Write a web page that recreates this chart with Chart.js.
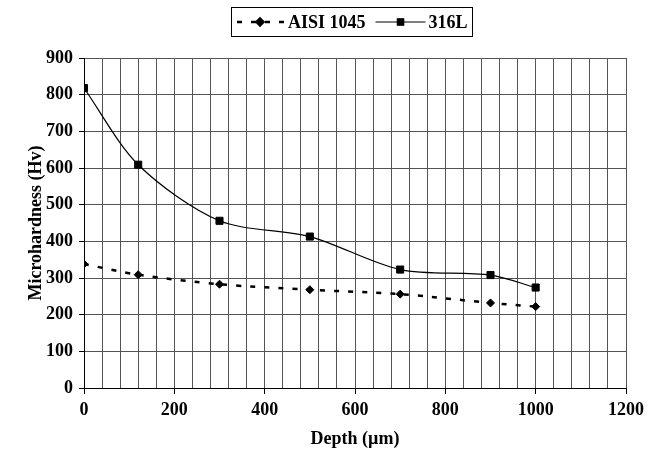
<!DOCTYPE html>
<html>
<head>
<meta charset="utf-8">
<script src="https://cdn.jsdelivr.net/npm/chart.js@4.4.1/dist/chart.umd.min.js"></script>
<style>
  html, body { margin: 0; padding: 0; background: #fff; }
</style>
</head>
<body>
<canvas id="chart" width="659" height="452"></canvas>
<script>
// values
const depth = [0, 120, 300, 500, 700, 900, 1000];
const aisi1045 = [338, 309, 283, 268, 256, 232, 222];
const steel316L = [818, 609, 456, 413, 323, 308, 274];
const seriesNames = ['AISI 1045', '316L'];

const FONT = '"Liberation Serif", "Times New Roman", serif';

function toPoints(ys) {
    return depth.map((x, i) => ({ x: x, y: ys[i] }));
}

// legend drawn in a framed box, like the original
const boxLegend = {
    id: 'boxLegend',
    afterDraw(chart) {
        const ctx = chart.ctx;
        ctx.save();
        ctx.strokeStyle = '#000';
        ctx.lineWidth = 1;
        ctx.strokeRect(231.5, 7.5, 241, 29);

        ctx.font = 'bold 18px ' + FONT;
        ctx.textBaseline = 'middle';
        ctx.fillStyle = '#000';
        const y = 22;
        let x = 235;
        chart.data.datasets.forEach((ds) => {
            const w = 50;
            ctx.beginPath();
            ctx.setLineDash(ds.borderDash || []);
            ctx.lineDashOffset = ds.borderDash ? -2 : 0;
            ctx.lineWidth = ds.borderWidth;
            ctx.strokeStyle = ds.borderColor;
            ctx.moveTo(x, y);
            ctx.lineTo(x + w, y);
            ctx.stroke();
            ctx.setLineDash([]);
            Chart.helpers.drawPoint(ctx, {
                pointStyle: ds.pointStyle,
                radius: ds.pointStyle === 'rect' ? 4.5 : 3.5,
                borderWidth: 1
            }, x + w / 2, y);
            ctx.fillStyle = '#000';
            ctx.fill();
            x += w + 3;
            ctx.fillText(ds.label, x, y + 1);
            x += ctx.measureText(ds.label).width + 10;
        });
        ctx.restore();
    }
};

new Chart(document.getElementById('chart').getContext('2d'), {
    type: 'line',
    data: {
        datasets: [{
            label: seriesNames[0],
            data: toPoints(aisi1045),
            borderColor: '#000',
            backgroundColor: '#000',
            borderWidth: 2.5,
            borderDash: [5, 9],
            pointStyle: 'rectRot',
            pointRadius: 4,
            pointBorderWidth: 1,
            tension: 0.3,
            fill: false
        }, {
            label: seriesNames[1],
            data: toPoints(steel316L),
            borderColor: '#000',
            backgroundColor: '#000',
            borderWidth: 1.2,
            pointStyle: 'rect',
            pointRadius: 5,
            pointBorderWidth: 1,
            tension: 0.3,
            fill: false
        }]
    },
    options: {
        responsive: false,
        animation: false,
        layout: { padding: { left: 24, right: 33, top: 58, bottom: 0 } },
        plugins: {
            legend: { display: false },
            tooltip: { enabled: false }
        },
        scales: {
            x: {
                type: 'linear',
                min: 0,
                max: 1200,
                afterFit(scale) { scale.height = 64; },
                ticks: {
                    stepSize: 40,
                    autoSkip: false,
                    maxRotation: 0,
                    padding: 6,
                    color: '#000',
                    font: { family: FONT, size: 18, weight: 'bold' },
                    callback: (v) => (v % 200 === 0 ? v : '')
                },
                grid: {
                    color: '#555',
                    lineWidth: 1,
                    tickLength: 6,
                    tickColor: (c) => (c.tick && c.tick.value % 200 === 0 ? '#000' : 'rgba(0,0,0,0)')
                },
                border: { color: '#000', width: 1 },
                title: {
                    display: true,
                    text: 'Depth (µm)',
                    color: '#000',
                    font: { family: FONT, size: 18, weight: 'bold' },
                    padding: { top: 2, bottom: 2 }
                }
            },
            y: {
                min: 0,
                max: 900,
                afterFit(scale) { scale.width = 60; },
                ticks: {
                    stepSize: 100,
                    padding: 6,
                    color: '#000',
                    font: { family: FONT, size: 18, weight: 'bold' }
                },
                grid: {
                    color: '#555',
                    lineWidth: 1,
                    tickLength: 5,
                    tickColor: '#000'
                },
                border: { color: '#000', width: 1 },
                title: {
                    display: true,
                    text: 'Microhardness (Hv)',
                    color: '#000',
                    font: { family: FONT, size: 18, weight: 'bold' },
                    padding: { top: 2, bottom: 2 }
                }
            }
        }
    },
    plugins: [boxLegend]
});
</script>
</body>
</html>
